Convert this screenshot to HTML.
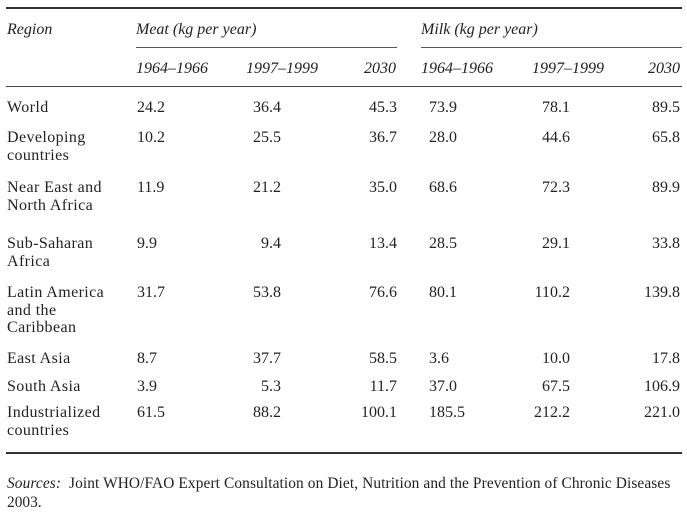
<!DOCTYPE html>
<html><head><meta charset="utf-8"><style>
body{margin:0;width:687px;height:513px;background:#fff;position:relative;overflow:hidden;font-family:"Liberation Serif",serif;font-size:16px;color:#222}
div{position:absolute;line-height:18px;white-space:nowrap}
.r{text-align:right}
.i{font-style:italic}
.ln{background:#333;height:1px}
.lab{letter-spacing:0.4px}
</style></head><body>
<div class="ln" style="left:6px;top:7px;width:676px;height:2px"></div>
<div class="i" style="left:7px;top:21px">Region</div>
<div class="i" style="left:136px;top:21px">Meat (kg per year)</div>
<div class="i" style="left:421px;top:21px">Milk (kg per year)</div>
<div class="ln" style="left:136px;top:47px;width:261px;background:#555"></div>
<div class="ln" style="left:421px;top:47px;width:261px;background:#555"></div>
<div class="i" style="left:136px;top:60px">1964–1966</div>
<div class="i" style="left:246px;top:60px">1997–1999</div>
<div class="i r" style="left:330px;width:66px;top:60px">2030</div>
<div class="i" style="left:421px;top:60px">1964–1966</div>
<div class="i" style="left:532px;top:60px">1997–1999</div>
<div class="i r" style="left:610px;width:70px;top:60px">2030</div>
<div class="ln" style="left:6px;top:86px;width:676px;background:#444"></div>

<div class="lab" style="left:7px;top:99px">World</div>
<div class="lab" style="left:7px;top:129px;line-height:17.5px">Developing<br>countries</div>
<div class="lab" style="left:7px;top:179px;line-height:17.5px">Near East and<br>North Africa</div>
<div class="lab" style="left:7px;top:235px;line-height:17.5px">Sub-Saharan<br>Africa</div>
<div class="lab" style="left:7px;top:284px;line-height:17.5px">Latin America<br>and the<br>Caribbean</div>
<div class="lab" style="left:7px;top:350px">East Asia</div>
<div class="lab" style="left:7px;top:378px">South Asia</div>
<div class="lab" style="left:7px;top:404px;line-height:17.5px">Industrialized<br>countries</div>

<div style="left:137px;top:99px">24.2</div><div class="r" style="left:200px;width:81px;top:99px">36.4</div><div class="r" style="left:300px;width:97px;top:99px">45.3</div><div style="left:429px;top:99px">73.9</div><div class="r" style="left:480px;width:90px;top:99px">78.1</div><div class="r" style="left:600px;width:80px;top:99px">89.5</div>
<div style="left:137px;top:129px">10.2</div><div class="r" style="left:200px;width:81px;top:129px">25.5</div><div class="r" style="left:300px;width:97px;top:129px">36.7</div><div style="left:429px;top:129px">28.0</div><div class="r" style="left:480px;width:90px;top:129px">44.6</div><div class="r" style="left:600px;width:80px;top:129px">65.8</div>
<div style="left:137px;top:179px">11.9</div><div class="r" style="left:200px;width:81px;top:179px">21.2</div><div class="r" style="left:300px;width:97px;top:179px">35.0</div><div style="left:429px;top:179px">68.6</div><div class="r" style="left:480px;width:90px;top:179px">72.3</div><div class="r" style="left:600px;width:80px;top:179px">89.9</div>
<div style="left:137px;top:235px">9.9</div><div class="r" style="left:200px;width:81px;top:235px">9.4</div><div class="r" style="left:300px;width:97px;top:235px">13.4</div><div style="left:429px;top:235px">28.5</div><div class="r" style="left:480px;width:90px;top:235px">29.1</div><div class="r" style="left:600px;width:80px;top:235px">33.8</div>
<div style="left:137px;top:284px">31.7</div><div class="r" style="left:200px;width:81px;top:284px">53.8</div><div class="r" style="left:300px;width:97px;top:284px">76.6</div><div style="left:429px;top:284px">80.1</div><div class="r" style="left:480px;width:90px;top:284px">110.2</div><div class="r" style="left:600px;width:80px;top:284px">139.8</div>
<div style="left:137px;top:350px">8.7</div><div class="r" style="left:200px;width:81px;top:350px">37.7</div><div class="r" style="left:300px;width:97px;top:350px">58.5</div><div style="left:429px;top:350px">3.6</div><div class="r" style="left:480px;width:90px;top:350px">10.0</div><div class="r" style="left:600px;width:80px;top:350px">17.8</div>
<div style="left:137px;top:378px">3.9</div><div class="r" style="left:200px;width:81px;top:378px">5.3</div><div class="r" style="left:300px;width:97px;top:378px">11.7</div><div style="left:429px;top:378px">37.0</div><div class="r" style="left:480px;width:90px;top:378px">67.5</div><div class="r" style="left:600px;width:80px;top:378px">106.9</div>
<div style="left:137px;top:404px">61.5</div><div class="r" style="left:200px;width:81px;top:404px">88.2</div><div class="r" style="left:300px;width:97px;top:404px">100.1</div><div style="left:429px;top:404px">185.5</div><div class="r" style="left:480px;width:90px;top:404px">212.2</div><div class="r" style="left:600px;width:80px;top:404px">221.0</div>

<div class="ln" style="left:6px;top:452px;width:676px;height:2px"></div>
<div style="left:7px;top:475px;font-size:15.4px;letter-spacing:0.1px"><i>Sources:</i>&nbsp; Joint WHO/FAO Expert Consultation on Diet, Nutrition and the Prevention of Chronic Diseases</div>
<div style="left:7px;top:494px;font-size:15.4px">2003.</div>
</body></html>
